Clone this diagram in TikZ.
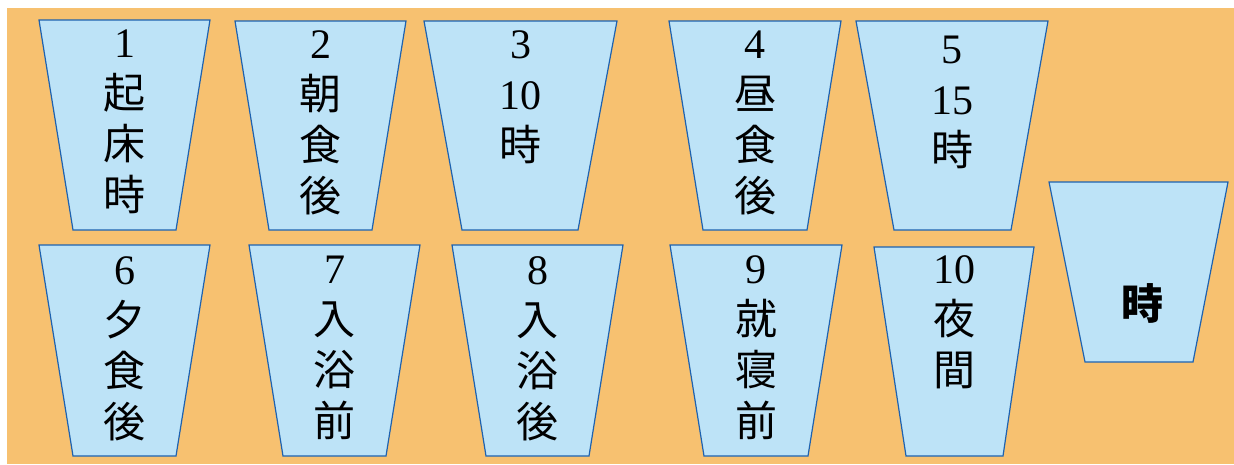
\documentclass[tikz,border=0pt]{standalone}
\usepackage{fontspec}
\setmainfont{Liberation Serif}
\newfontfamily\jpfont{Noto Sans CJK JP}
\usetikzlibrary{positioning}

\definecolor{boardorange}{RGB}{247,193,112}
\definecolor{cupblue}{RGB}{189,227,247}
\definecolor{cupline}{RGB}{30,98,176}

\begin{document}
\begin{tikzpicture}[
		x=1pt, y=-1pt,
		cup/.style={
			fill=cupblue,
			draw=cupline,
			line width=1.2pt,
			line join=miter
		},
		every node/.style={
			font=\jpfont\fontsize{42}{51}\selectfont,
			align=center,
			inner sep=0pt,
			anchor=north
		}
		]
		
		\useasboundingbox (0,0) rectangle (1234,464);
		
		%--------------------------------------------------
		% Board
		%--------------------------------------------------
		
		\fill[boardorange] (7,8) rectangle (1234,464);
		
		%--------------------------------------------------
		% Cups (top left / top right / bottom left / bottom right / top / bottom)
		%--------------------------------------------------
		
		\foreach \tl/\tr/\bl/\br/\t/\b in {
			39/210/73/176/20/230,
			235/406/269/372/21/230,
			424/617/462/578/21/230,
			669/841/703/807/21/230,
			856/1048/894/1011/21/230,
			39/210/73/176/245/456,
			249/420/283/386/245/456,
			452/623/486/589/245/456,
			670/842/704/808/245/456,
			874/1034/906/1003/247/456,
			1049/1228/1085/1193/182/362}
		{
			\draw[cup] (\tl,\t) -- (\tr,\t) -- (\br,\b) -- (\bl,\b) -- cycle;
		}
		
		%--------------------------------------------------
		% Labels
		%--------------------------------------------------
		
		\node (wake)   at (124.5,30) {{\rmfamily 1}\\起\\床\\時};
		\node (bfast)  at (320.5,30) {{\rmfamily 2}\\朝\\食\\後};
		\node (ten)    at (520.5,30) {{\rmfamily 3}\\{\rmfamily 10}\\時};
		\node (lunch)  at (755,31)   {{\rmfamily 4}\\昼\\食\\後};
		\node (fifteen)at (952,36)   {{\rmfamily 5}\\{\rmfamily 15}\\時};
		
		\node (dinner) at (124.5,256) {{\rmfamily 6}\\夕\\食\\後};
		\node (prebath)at (334.5,256) {{\rmfamily 7}\\入\\浴\\前};
		\node (aftbath)at (537.5,256) {{\rmfamily 8}\\入\\浴\\後};
		\node (prebed) at (756,255)   {{\rmfamily 9}\\就\\寝\\前};
		\node (night)  at (954,255)   {{\rmfamily 10}\\夜\\間};
		
		\node[anchor=center] (free) at (1142,303) {\bfseries 時};
		
	\end{tikzpicture}
\end{document}
